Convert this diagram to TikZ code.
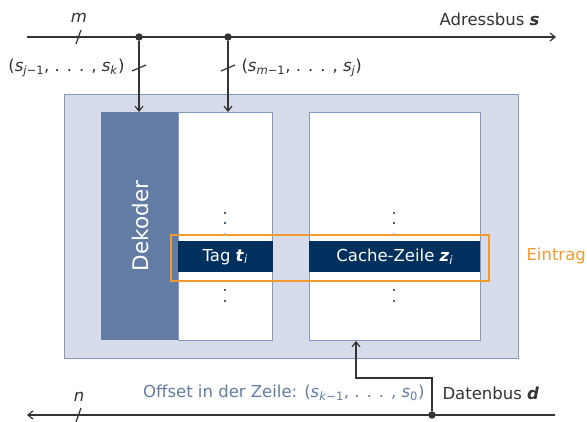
\documentclass[tikz,border=0pt]{standalone}
\usepackage{fontspec}
\setmainfont{DejaVu Sans}
\usetikzlibrary{arrows.meta}
\definecolor{outerfill}{HTML}{D6DCE9}
\definecolor{outerline}{HTML}{8499BE}
\definecolor{deko}{HTML}{627CA3}
\definecolor{navy}{HTML}{00305E}
\definecolor{orng}{HTML}{F39A2E}
\definecolor{txt}{HTML}{333333}
\newcommand{\vs}[1]{\textit{#1}}
\newcommand{\sub}[1]{\textsubscript{#1}}
\begin{document}
\begin{tikzpicture}[x=1pt,y=-1pt,
  font=\fontsize{16.5}{19}\selectfont,
  bus/.style={draw=txt, line width=1.2pt},
  arr/.style={-{Straight Barb[length=5pt,width=8pt]}},
  tick/.style={draw=txt, line width=1.2pt},
  dotc/.style={circle, fill=txt, inner sep=0pt, minimum size=7.5pt},
  col/.style={draw=outerline, fill=white, line width=0.9pt},
  row/.style={fill=navy, text=white, inner sep=0pt},
  vdot/.style={circle, fill=navy, inner sep=0pt, minimum size=2.4pt}]
\useasboundingbox (0,0) rectangle (587,421);
% outer box
\node[draw=outerline, fill=outerfill, line width=1.1pt, minimum width=454pt, minimum height=264pt, inner sep=0pt, anchor=north west] (outer) at (64,94) {};
% decoder
\node[fill=deko, minimum width=77pt, minimum height=228pt, inner sep=0pt, anchor=north west] (dek) at (101,112) {};
\node[rotate=90, text=white, font=\fontsize{21.5}{24}\selectfont] (deklbl) at (140,226) {Dekoder};
% tag column
\node[col, minimum width=94pt, minimum height=228pt, inner sep=0pt, anchor=north west] (tagcol) at (178,112) {};
% cache column
\node[col, minimum width=171pt, minimum height=228pt, inner sep=0pt, anchor=north west] (cachecol) at (309,112) {};
% rows
\node[row, minimum width=95pt, minimum height=31pt, anchor=north west] (tag) at (177.5,241) {Tag \textbf{\textit{t}}\sub{\textit{i}}};
\node[row, minimum width=171pt, minimum height=31pt, anchor=north west] (cache) at (309,241) {Cache-Zeile \textbf{\textit{z}}\sub{\textit{i}}};
% orange entry box
\node[draw=orng, line width=1.8pt, minimum width=318pt, minimum height=46pt, inner sep=0pt, anchor=north west] (entry) at (170,234) {};
\node[text=orng, anchor=west] (eintrag) at (523,256) {Eintrag};
% vertical dots
\foreach \x/\n in {225/a,394/b}{
  \node[vdot] (d1\n) at (\x,213) {};
  \node[vdot] (d2\n) at (\x,223) {};
  \node[vdot, fill=navy!35] (d3\n) at (\x,234) {};
  \node[vdot] (d4\n) at (\x,290) {};
  \node[vdot] (d5\n) at (\x,301) {};
}
% address bus
\coordinate (asL) at (27,37);
\coordinate (asR) at (556,37);
\draw[bus, arr] (asL) -- (asR);
\node[text=txt, anchor=south east] (adr) at (543,29) {Adressbus \textbf{\textit{s}}};
\draw[tick] (76,44) -- (81,30);
\node[text=txt] (m) at (79,18) {\textit{m}};
\node[dotc] (j1) at (139,37) {};
\node[dotc] (j2) at (228,37) {};
\draw[bus, arr] (j1) -- (j1 |- dek.north);
\draw[bus, arr] (j2) -- (j2 |- tagcol.north);
\draw[tick] (132,71) -- (146,65);
\draw[tick] (221,71) -- (235,65);
\node[text=txt, anchor=east] (lbl1) at (128,68) {(\vs{s}\sub{\vs{j}−1}, . . . , \vs{s}\sub{\vs{k}})};
\node[text=txt, anchor=west] (lbl2) at (238,68) {(\vs{s}\sub{\vs{m}−1}, . . . , \vs{s}\sub{\vs{j}})};
% data bus
\coordinate (dsR) at (555,415);
\coordinate (dsL) at (27,415);
\draw[bus, arr] (dsR) -- (dsL);
\draw[tick] (76,422) -- (81,408);
\node[text=txt] (n) at (79,397) {\textit{n}};
\node[dotc] (j3) at (432,415) {};
\coordinate (bend1) at (432,378);
\coordinate (bend2) at (356,378);
\draw[bus, arr] (j3) -- (bend1) -- (bend2) -- (bend2 |- cachecol.south);
\node[text=deko, anchor=east] (offs) at (428,393) {Offset in der Zeile: (\vs{s}\sub{\vs{k}−1}, . . . , \vs{s}\sub{0})};
\node[text=txt, anchor=west] (dat) at (439,393) {Datenbus \textbf{\textit{d}}};
\end{tikzpicture}
\end{document}
